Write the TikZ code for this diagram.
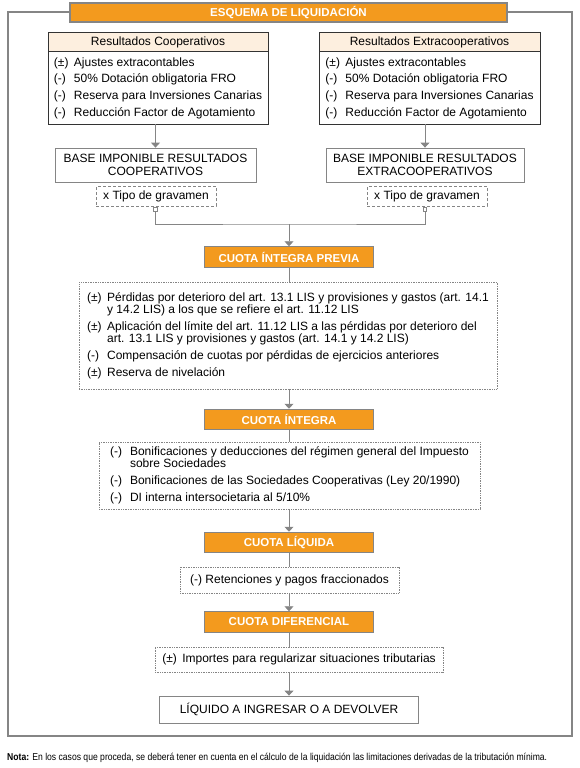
\documentclass[tikz,border=0pt]{standalone}
\usepackage{fontspec}
\usepackage{graphicx}
\setmainfont{Liberation Sans}
\usetikzlibrary{arrows.meta,positioning}

\definecolor{naranja}{HTML}{F39A1E}
\definecolor{gris}{HTML}{858585}
\definecolor{crema}{HTML}{FDEFDF}
\definecolor{oscuro}{HTML}{333333}

\newcommand{\signo}[1]{\makebox[20pt][l]{#1}}

\tikzset{
	caja/.style={draw=gris,line width=0.8pt,inner sep=0pt,align=center,font=\fontsize{12}{13}\selectfont},
	cuota/.style={draw=gris,line width=1pt,fill=naranja,text=white,inner sep=0pt,minimum width=169pt,minimum height=20.5pt,font=\fontsize{11.5}{12}\selectfont\bfseries},
	punteado/.style={draw=gris,line width=0.8pt,dash pattern=on 0.8pt off 0.9pt,inner sep=0pt,align=left,font=\fontsize{12}{12}\selectfont},
	discontinuo/.style={draw=gris,line width=0.8pt,dash pattern=on 3pt off 2pt,inner sep=0pt,font=\fontsize{12}{13}\selectfont},
	cabecera/.style={draw=oscuro,line width=1pt,fill=crema,inner sep=0pt,outer sep=0pt,font=\fontsize{12}{13}\selectfont},
	cuerpo/.style={draw=oscuro,line width=1pt,inner sep=0pt,outer sep=0pt,align=left,font=\fontsize{12}{16.7}\selectfont},
	enlace/.style={draw=gris,fill=white,line width=0.7pt,inner sep=0pt,minimum width=3.5pt,minimum height=4pt},
	linea/.style={gris,line width=0.8pt},
	flecha/.style={gris,line width=0.8pt,-{Triangle[width=9pt,length=5pt]}},
	marco/.style={gris,line width=2pt}
}

\begin{document}
\begin{tikzpicture}[x=1pt,y=-1pt]
	\useasboundingbox (0,0) rectangle (580,768);
	\node[cuota,line width=2pt,minimum width=437pt,minimum height=19pt] (titulo) at (288.5,12.5) {ESQUEMA DE LIQUIDACIÓN};
	\draw[marco] (titulo.west) -| (7.5,736) -| (572,12.5) -- (titulo.east);

	\node[cabecera,minimum width=220pt,minimum height=19pt] (hcoop) at (158,42.5) {Resultados Cooperativos};
	\node[cuerpo,minimum width=220pt,minimum height=72pt,below=0pt of hcoop] (rcoop) {\signo{(±)}Ajustes extracontables\\
		\signo{(-)}50\% Dotación obligatoria FRO\\
		\signo{(-)}Reserva para Inversiones Canarias\\
		\signo{(-)}Reducción Factor de Agotamiento};
	\node[cabecera,minimum width=221pt,minimum height=19pt] (hextra) at (429.5,42.5) {Resultados Extracooperativos};
	\node[cuerpo,minimum width=221pt,minimum height=72pt,below=0pt of hextra] (rextra) {\signo{(±)}Ajustes extracontables\\
		\signo{(-)}50\% Dotación obligatoria FRO\\
		\signo{(-)}Reserva para Inversiones Canarias\\
		\signo{(-)}Reducción Factor de Agotamiento};

	\node[caja,minimum width=201pt,minimum height=34pt] (bcoop) at (155.5,165) {BASE IMPONIBLE RESULTADOS\\COOPERATIVOS};
	\node[caja,minimum width=198pt,minimum height=34pt] (bextra) at (425,165) {BASE IMPONIBLE RESULTADOS\\EXTRACOOPERATIVOS};
	\node[discontinuo,minimum width=120pt,minimum height=19.5pt] (tcoop) at (156,196.5) {x Tipo de gravamen};
	\node[discontinuo,minimum width=120pt,minimum height=19.5pt] (textra) at (427,196.5) {x Tipo de gravamen};
	\node[enlace,anchor=north] (scoop) at (tcoop.south -| bcoop.south) {};
	\node[enlace,anchor=north] (sextra) at (textra.south -| bextra.south) {};
	\coordinate (junta) at (289,224);

	\node[cuota] (cip) at (289,257) {CUOTA ÍNTEGRA PREVIA};
	\node[punteado,minimum width=418pt,minimum height=107pt] (cipitems) at (288,335.5) {\signo{(±)}Pérdidas por deterioro del art. 13.1 LIS y provisiones y gastos (art. 14.1\\
		\signo{}y 14.2 LIS) a los que se refiere el art. 11.12 LIS\\[5pt]
		\signo{(±)}Aplicación del límite del art. 11.12 LIS a las pérdidas por deterioro del\\
		\signo{}art. 13.1 LIS y provisiones y gastos (art. 14.1 y 14.2 LIS)\\[5pt]
		\signo{(-)}Compensación de cuotas por pérdidas de ejercicios anteriores\\[5pt]
		\signo{(±)}Reserva de nivelación};
	\node[cuota] (ci) at (289,419.5) {CUOTA ÍNTEGRA};
	\node[punteado,minimum width=381pt,minimum height=67pt] (ciitems) at (289.5,475.5) {\signo{(-)}Bonificaciones y deducciones del régimen general del Impuesto\\
		\signo{}sobre Sociedades\\[5pt]
		\signo{(-)}Bonificaciones de las Sociedades Cooperativas (Ley 20/1990)\\[5pt]
		\signo{(-)}DI interna intersocietaria al 5/10\%};
	\node[cuota] (cl) at (289,542.5) {CUOTA LÍQUIDA};
	\node[punteado,minimum width=219pt,minimum height=26pt] (clitems) at (289.5,580) {(-) Retenciones y pagos fraccionados};
	\node[cuota] (cd) at (289,622) {CUOTA DIFERENCIAL};
	\node[punteado,minimum width=288pt,minimum height=25pt] (cditems) at (299,659.5) {\signo{(±)}Importes para regularizar situaciones tributarias};
	\node[caja,minimum width=259pt,minimum height=27pt] (liquido) at (289,709.5) {LÍQUIDO A INGRESAR O A DEVOLVER};

	\draw[flecha] (rcoop.south -| bcoop.north) -- (bcoop.north);
	\draw[flecha] (rextra.south -| bextra.north) -- (bextra.north);
	\draw[linea] (scoop.south) |- (junta) -| (sextra.south);
	\draw[flecha] (junta) -- (cip.north);
	\draw[linea] (cip.south) -- (cip.south |- cipitems.north);
	\draw[flecha] (cipitems.south -| ci.north) -- (ci.north);
	\draw[linea] (ci.south) -- (ci.south |- ciitems.north);
	\draw[flecha] (ciitems.south -| cl.north) -- (cl.north);
	\draw[linea] (cl.south) -- (cl.south |- clitems.north);
	\draw[flecha] (clitems.south -| cd.north) -- (cd.north);
	\draw[linea] (cd.south) -- (cd.south |- cditems.north);
	\draw[flecha] (cditems.south -| liquido.north) -- (liquido.north);

	\node[anchor=west,inner sep=0pt,font=\fontsize{10}{11}\selectfont] (nota) at (7,758) {\scalebox{0.86}[1]{\textbf{Nota:} En los casos que proceda, se deberá tener en cuenta en el cálculo de la liquidación las limitaciones derivadas de la tributación mínima.}};
\end{tikzpicture}
\end{document}
